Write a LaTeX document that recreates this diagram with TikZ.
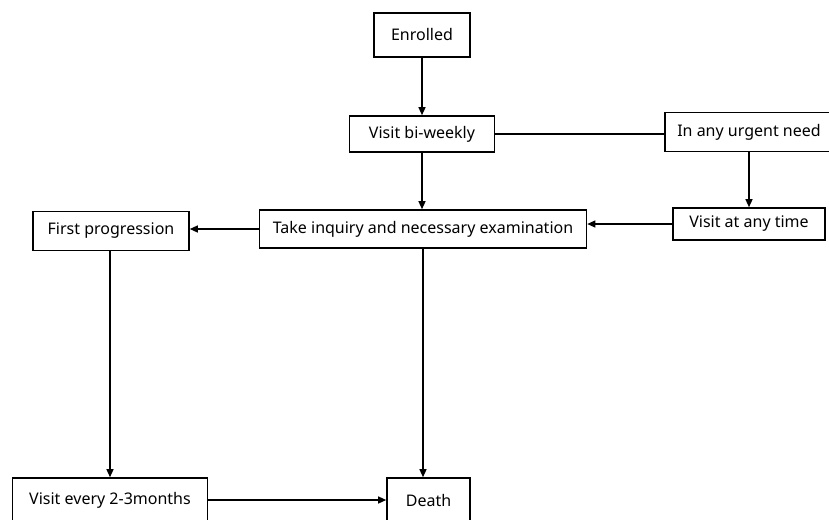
\documentclass[tikz,border=0pt]{standalone}
\usepackage{fontspec}
\setmainfont{Noto Sans}
\usetikzlibrary{arrows.meta,positioning}

\begin{document}
\begin{tikzpicture}[x=1pt, y=-1pt,
    box/.style={draw, line width=1.6pt, inner sep=0pt, align=center, font=\fontsize{16}{18}\selectfont},
    flow/.style={-{Triangle[length=8pt,width=7pt]}, line width=1.3pt}]
  \useasboundingbox (0,0) rectangle (829,519);
  \node[box, minimum width=96pt, minimum height=44pt] (enrolled) at (422,35) {Enrolled};
  \node[box, minimum width=145pt, minimum height=36pt] (biweekly) at (422,134) {Visit bi-weekly};
  \node[box, minimum width=168pt, minimum height=39pt] (urgent) at (749,132) {In any urgent need};
  \node[box, minimum width=152pt, minimum height=32pt] (anytime) at (749,224) {Visit at any time};
  \node[box, minimum width=327pt, minimum height=38pt] (inquiry) at (423,229) {Take inquiry and necessary examination};
  \node[box, minimum width=156pt, minimum height=39pt] (firstprog) at (111,231) {First progression};
  \node[box, minimum width=195pt, minimum height=44pt] (every) at (110,500) {Visit every 2-3months};
  \node[box, minimum width=83pt, minimum height=44pt] (death) at (428.5,500) {Death};
  % links
  \draw[flow] (enrolled) -- (biweekly);
  \draw[flow] (biweekly.south) -- (biweekly.south |- inquiry.north);
  \draw[line width=1.3pt] (biweekly.east) -- (biweekly.east -| urgent.west);
  \draw[flow] (urgent) -- (anytime);
  \draw[flow] (anytime.west) -- (anytime.west -| inquiry.east);
  \draw[flow] (inquiry.west) -- (inquiry.west -| firstprog.east);
  \draw[flow] (firstprog.south -| every.north) -- (every.north);
  \draw[flow] (inquiry.south) -- (inquiry.south |- death.north);
  \draw[flow] (every.east) -- (death.west);
\end{tikzpicture}
\end{document}
